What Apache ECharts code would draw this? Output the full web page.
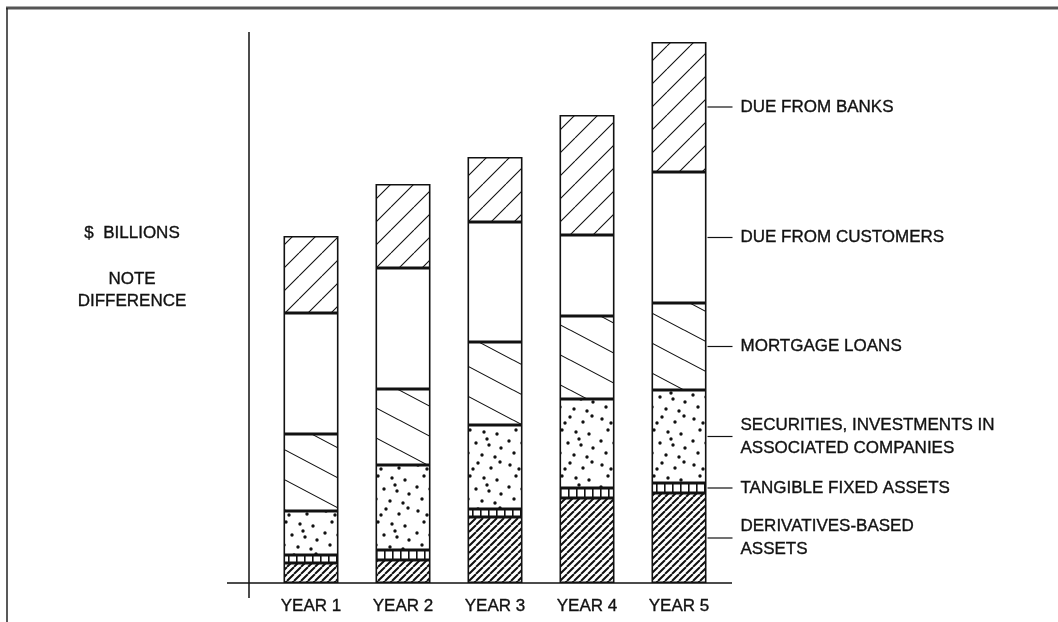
<!DOCTYPE html>
<html>
<head>
<meta charset="utf-8">
<script src="https://cdn.jsdelivr.net/npm/echarts@6/dist/echarts.min.js"></script>
<style>
  html, body { margin: 0; padding: 0; background: #fff; }
  #main { width: 1058px; height: 622px; }
</style>
</head>
<body>
<div id="main"></div>
<script>
  // categories and stacked values (bottom to top)
  var years = ['YEAR 1', 'YEAR 2', 'YEAR 3', 'YEAR 4', 'YEAR 5'];
  var derivatives = [20, 23, 66, 85, 90];
  var tangible = [8, 10, 8, 10, 10];
  var securities = [44, 85, 84, 89, 93];
  var mortgage = [77, 76, 83, 83, 87];
  var customers = [121, 121, 120, 81, 131];
  var banks = [77, 84, 65, 120, 130];
  var seriesNames = [
    'DERIVATIVES-BASED\nASSETS',
    'TANGIBLE FIXED ASSETS',
    'SECURITIES, INVESTMENTS IN\nASSOCIATED COMPANIES',
    'MORTGAGE LOANS',
    'DUE FROM CUSTOMERS',
    'DUE FROM BANKS'
  ];
  var sideText = ['$  BILLIONS', 'NOTE', 'DIFFERENCE'];

  var FONT = '"Liberation Sans", Arial, sans-serif';
  var BAR_W = 55;

  // small canvas tiles used as fill patterns
  function tile(w, h, draw) {
    var c = document.createElement('canvas');
    c.width = w; c.height = h;
    var ctx = c.getContext('2d');
    ctx.fillStyle = '#fff';
    ctx.fillRect(0, 0, w, h);
    ctx.strokeStyle = '#111';
    ctx.fillStyle = '#111';
    draw(ctx, w, h);
    return { image: c, repeat: 'repeat' };
  }

  var patBanks = tile(23, 23, function (ctx, w, h) {
    ctx.lineWidth = 1.1;
    ctx.beginPath();
    for (var k = -1; k <= 1; k++) { ctx.moveTo(k * w, h); ctx.lineTo(k * w + w, 0); }
    ctx.stroke();
  });
  var patCustomers = '#fff';
  var patMortgage = tile(57, 30, function (ctx, w, h) {
    ctx.lineWidth = 1.1;
    ctx.beginPath();
    for (var k = -1; k <= 1; k++) { ctx.moveTo(0, k * h); ctx.lineTo(w, k * h + h); }
    ctx.stroke();
  });
  var dots = [[4, 5], [18, 3], [31, 8], [40, 2], [10, 16], [24, 18], [37, 20],
    [3, 27], [16, 29], [29, 31], [41, 34], [8, 39], [22, 41], [35, 43],
    [13, 9], [27, 25]];
  var patSecurities = tile(46, 46, function (ctx) {
    dots.forEach(function (d) {
      ctx.beginPath(); ctx.arc(d[0], d[1], 1.7, 0, Math.PI * 2); ctx.fill();
    });
  });
  var patTangible = tile(8, 10, function (ctx, w, h) {
    ctx.fillRect(0, 0, 1.6, h);
  });
  var patDerivatives = tile(7, 7, function (ctx, w, h) {
    ctx.lineWidth = 2;
    ctx.beginPath();
    for (var k = -1; k <= 1; k++) { ctx.moveTo(k * w, h); ctx.lineTo(k * w + w, 0); }
    ctx.stroke();
  });

  var layers = [derivatives, tangible, securities, mortgage, customers, banks];
  var fills = [patDerivatives, patTangible, patSecurities, patMortgage, patCustomers, patBanks];

  var myChart = echarts.init(document.getElementById('main'));

  var option = {
    animation: false,
    backgroundColor: '#fff',
    grid: { left: 265, right: 333, top: 33, bottom: 39 },
    xAxis: {
      type: 'category',
      data: years,
      axisLine: { show: false },
      axisTick: { show: false },
      axisLabel: {
        color: '#111', fontSize: 17, fontFamily: FONT, margin: 15,
        textBorderColor: '#111', textBorderWidth: 0.35
      }
    },
    yAxis: {
      type: 'value',
      min: 0,
      max: 550,
      show: false,
      splitLine: { show: false }
    },
    series: layers.map(function (vals, i) {
      return {
        name: seriesNames[i],
        type: 'bar',
        stack: 'assets',
        barWidth: BAR_W,
        data: vals,
        itemStyle: { color: fills[i], borderColor: '#111', borderWidth: 1.6 }
      };
    })
  };
  myChart.setOption(option);

  // axis lines, frame, side notes and segment labels
  var origin = myChart.convertToPixel({ gridIndex: 0 }, [0, 0]);
  var axisY = origin[1];
  var textStyle = function (t, align) {
    return {
      text: t, fill: '#111', font: '17px ' + FONT, lineHeight: 23,
      stroke: '#111', lineWidth: 0.35,
      textAlign: align, textVerticalAlign: 'middle'
    };
  };
  var g = [
    { type: 'line', shape: { x1: 6, y1: 8, x2: 1058, y2: 8 }, style: { stroke: '#555', lineWidth: 3 } },
    { type: 'line', shape: { x1: 7, y1: 8, x2: 7, y2: 622 }, style: { stroke: '#222', lineWidth: 1.5 } },
    { type: 'line', shape: { x1: 249, y1: 32, x2: 249, y2: 598 }, style: { stroke: '#111', lineWidth: 1.5 } },
    { type: 'line', shape: { x1: 227, y1: axisY, x2: 732, y2: axisY }, style: { stroke: '#111', lineWidth: 1.5 } }
  ];
  var sideY = [233, 279, 301];
  sideText.forEach(function (t, i) {
    g.push({ type: 'text', x: 132, y: sideY[i], style: textStyle(t, 'center') });
  });

  var last = years.length - 1;
  var base = 0;
  layers.forEach(function (vals, i) {
    var mid = base + vals[last] / 2;
    base += vals[last];
    var p = myChart.convertToPixel({ gridIndex: 0 }, [last, mid]);
    var right = p[0] + BAR_W / 2;
    g.push({ type: 'line', shape: { x1: right + 1, y1: p[1], x2: right + 26, y2: p[1] }, style: { stroke: '#111', lineWidth: 1.2 } });
    g.push({ type: 'text', x: right + 34, y: p[1], style: textStyle(seriesNames[i], 'left') });
  });
  myChart.setOption({ graphic: g });
</script>
</body>
</html>
